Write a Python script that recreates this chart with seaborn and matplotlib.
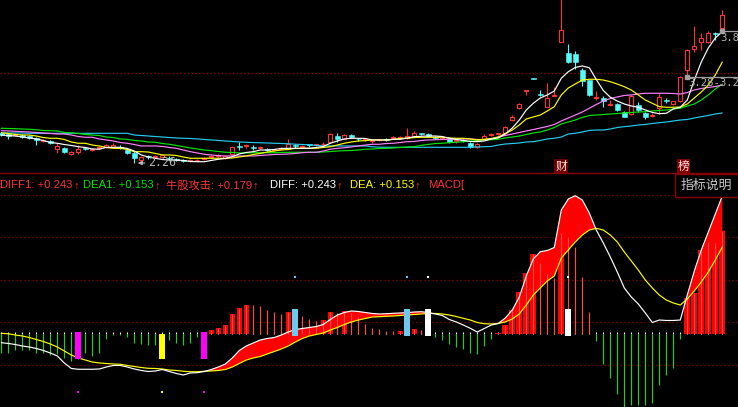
import matplotlib
matplotlib.use("Agg")
import matplotlib.pyplot as plt
import seaborn as sns
import numpy as np

# ---------------- data ----------------
opens = [2.62, 2.60, 2.59, 2.59, 2.58, 2.56, 2.52, 2.52, 2.43, 2.44,
         2.37, 2.39, 2.44, 2.41, 2.44, 2.45, 2.45, 2.45, 2.41, 2.38,
         2.30, 2.34, 2.33, 2.33, 2.32, 2.31, 2.29, 2.28, 2.29, 2.31,
         2.33, 2.34, 2.32, 2.37, 2.46, 2.46, 2.45, 2.44, 2.43, 2.41,
         2.43, 2.43, 2.47, 2.45, 2.48, 2.47, 2.48, 2.51, 2.58, 2.55,
         2.59, 2.55, 2.53, 2.52, 2.53, 2.55, 2.56, 2.56, 2.56, 2.58,
         2.61, 2.60, 2.57, 2.55, 2.55, 2.52, 2.53, 2.50, 2.45, 2.54,
         2.59, 2.60, 2.61, 2.77, 2.91, 3.11, 3.27, 3.08, 2.93, 3.06,
         3.70, 3.56, 3.55, 3.36, 3.24, 3.03, 3.03, 2.95, 2.96, 2.87,
         2.84, 2.95, 2.85, 2.82, 2.91, 3.01, 2.96, 2.99, 3.36, 3.61,
         3.70, 3.70, 3.80, 3.86]
highs = [2.63, 2.62, 2.62, 2.60, 2.59, 2.57, 2.54, 2.53, 2.50, 2.45,
         2.40, 2.47, 2.45, 2.44, 2.46, 2.49, 2.50, 2.47, 2.43, 2.40,
         2.34, 2.35, 2.35, 2.36, 2.34, 2.32, 2.31, 2.31, 2.31, 2.33,
         2.35, 2.37, 2.35, 2.46, 2.51, 2.49, 2.47, 2.46, 2.44, 2.43,
         2.45, 2.54, 2.49, 2.47, 2.49, 2.49, 2.51, 2.61, 2.61, 2.60,
         2.60, 2.56, 2.55, 2.54, 2.55, 2.56, 2.58, 2.58, 2.67, 2.64,
         2.62, 2.61, 2.58, 2.57, 2.56, 2.54, 2.54, 2.51, 2.50, 2.60,
         2.61, 2.62, 2.70, 2.83, 2.97, 3.13, 3.27, 3.12, 3.21, 3.16,
         4.25, 3.67, 3.59, 3.39, 3.25, 3.11, 3.05, 3.01, 2.97, 2.88,
         3.07, 2.98, 2.87, 2.85, 3.09, 3.03, 3.00, 3.29, 3.61, 3.88,
         3.80, 3.83, 3.81, 4.07]
lows = [2.58, 2.54, 2.58, 2.56, 2.54, 2.47, 2.51, 2.49, 2.38, 2.38,
        2.36, 2.37, 2.41, 2.40, 2.43, 2.44, 2.44, 2.43, 2.37, 2.26,
        2.29, 2.31, 2.32, 2.32, 2.30, 2.28, 2.27, 2.27, 2.28, 2.30,
        2.32, 2.33, 2.31, 2.36, 2.41, 2.44, 2.41, 2.42, 2.40, 2.40,
        2.41, 2.42, 2.44, 2.44, 2.45, 2.46, 2.46, 2.50, 2.51, 2.54,
        2.56, 2.52, 2.52, 2.50, 2.52, 2.52, 2.54, 2.55, 2.55, 2.57,
        2.59, 2.57, 2.55, 2.54, 2.50, 2.50, 2.51, 2.44, 2.44, 2.53,
        2.58, 2.59, 2.60, 2.76, 2.90, 3.07, 3.26, 3.06, 2.92, 3.05,
        3.69, 3.45, 3.38, 3.17, 3.05, 3.01, 2.93, 2.94, 2.88, 2.80,
        2.83, 2.87, 2.78, 2.80, 2.84, 2.97, 2.95, 2.98, 3.28, 3.58,
        3.60, 3.68, 3.72, 3.84]
closes = [2.59, 2.58, 2.60, 2.57, 2.56, 2.53, 2.53, 2.50, 2.46, 2.39,
          2.39, 2.43, 2.43, 2.43, 2.45, 2.47, 2.47, 2.44, 2.38, 2.32,
          2.33, 2.33, 2.34, 2.35, 2.31, 2.30, 2.28, 2.30, 2.30, 2.32,
          2.34, 2.35, 2.34, 2.45, 2.45, 2.47, 2.44, 2.45, 2.41, 2.42,
          2.44, 2.49, 2.46, 2.46, 2.47, 2.48, 2.49, 2.60, 2.54, 2.59,
          2.57, 2.54, 2.54, 2.53, 2.54, 2.53, 2.57, 2.57, 2.58, 2.61,
          2.60, 2.58, 2.56, 2.56, 2.51, 2.53, 2.52, 2.45, 2.49, 2.58,
          2.60, 2.61, 2.69, 2.81, 2.96, 3.12, 3.26, 3.07, 3.03, 3.07,
          3.84, 3.46, 3.46, 3.23, 3.07, 3.04, 2.99, 2.96, 2.89, 2.81,
          3.06, 2.89, 2.81, 2.83, 3.04, 3.00, 2.99, 3.28, 3.60, 3.65,
          3.74, 3.80, 3.79, 4.02]

ma5 = [2.592, 2.586, 2.580, 2.568, 2.557, 2.545, 2.527, 2.503, 2.494, 2.479,
       2.468, 2.453, 2.444, 2.426, 2.423, 2.446, 2.446, 2.446, 2.432, 2.402,
       2.355, 2.331, 2.316, 2.301, 2.295, 2.295, 2.290, 2.278, 2.275, 2.275,
       2.290, 2.304, 2.313, 2.335, 2.367, 2.385, 2.394, 2.414, 2.414, 2.420,
       2.432, 2.434, 2.434, 2.434, 2.434, 2.444, 2.456, 2.494, 2.521, 2.545,
       2.553, 2.553, 2.551, 2.533, 2.533, 2.533, 2.541, 2.541, 2.557, 2.572,
       2.577, 2.580, 2.580, 2.574, 2.553, 2.539, 2.527, 2.515, 2.513, 2.521,
       2.545, 2.557, 2.604, 2.675, 2.770, 2.889, 2.968, 3.031, 3.067, 3.114,
       3.265, 3.343, 3.393, 3.411, 3.390, 3.250, 3.120, 3.040, 2.995, 2.960,
       2.936, 2.921, 2.889, 2.860, 2.845, 2.850, 2.901, 2.921, 3.007, 3.244,
       3.458, 3.624, 3.743, 3.818]
ma10 = [2.619, 2.610, 2.598, 2.592, 2.592, 2.580, 2.562, 2.553, 2.553, 2.539,
        2.509, 2.494, 2.494, 2.473, 2.462, 2.444, 2.434, 2.434, 2.420, 2.394,
        2.394, 2.390, 2.373, 2.355, 2.355, 2.349, 2.331, 2.316, 2.316, 2.316,
        2.316, 2.316, 2.316, 2.319, 2.331, 2.343, 2.361, 2.373, 2.390, 2.402,
        2.414, 2.420, 2.434, 2.434, 2.434, 2.434, 2.444, 2.453, 2.473, 2.494,
        2.509, 2.521, 2.525, 2.533, 2.533, 2.533, 2.539, 2.551, 2.553, 2.562,
        2.565, 2.565, 2.565, 2.565, 2.557, 2.553, 2.553, 2.545, 2.533, 2.541,
        2.551, 2.568, 2.610, 2.651, 2.711, 2.782, 2.806, 2.829, 2.877, 2.928,
        3.067, 3.150, 3.197, 3.244, 3.253, 3.253, 3.244, 3.224, 3.197, 3.165,
        3.126, 3.067, 3.007, 2.968, 2.928, 2.921, 2.921, 2.924, 2.960, 3.031,
        3.102, 3.185, 3.304, 3.458]
ma20 = [2.643, 2.640, 2.636, 2.631, 2.628, 2.622, 2.616, 2.610, 2.604, 2.604,
        2.592, 2.574, 2.565, 2.565, 2.545, 2.533, 2.521, 2.503, 2.494, 2.479,
        2.462, 2.462, 2.462, 2.456, 2.444, 2.434, 2.414, 2.394, 2.379, 2.363,
        2.355, 2.347, 2.343, 2.343, 2.343, 2.343, 2.343, 2.349, 2.355, 2.361,
        2.363, 2.367, 2.373, 2.382, 2.387, 2.387, 2.402, 2.423, 2.434, 2.441,
        2.450, 2.462, 2.473, 2.482, 2.482, 2.491, 2.494, 2.503, 2.513, 2.515,
        2.527, 2.533, 2.536, 2.539, 2.541, 2.545, 2.545, 2.545, 2.539, 2.535,
        2.545, 2.568, 2.586, 2.604, 2.622, 2.640, 2.657, 2.675, 2.693, 2.717,
        2.758, 2.794, 2.829, 2.865, 2.909, 2.954, 2.995, 3.025, 3.043, 3.061,
        3.067, 3.078, 3.087, 3.087, 3.087, 3.087, 3.084, 3.078, 3.096, 3.126,
        3.144, 3.156, 3.167, 3.185]
ma30 = [2.672, 2.669, 2.667, 2.663, 2.660, 2.654, 2.646, 2.643, 2.640, 2.622,
        2.619, 2.610, 2.598, 2.592, 2.586, 2.568, 2.562, 2.545, 2.541, 2.527,
        2.521, 2.509, 2.506, 2.491, 2.482, 2.468, 2.453, 2.438, 2.426, 2.414,
        2.406, 2.396, 2.387, 2.385, 2.379, 2.379, 2.382, 2.382, 2.382, 2.382,
        2.385, 2.387, 2.387, 2.387, 2.387, 2.387, 2.390, 2.396, 2.402, 2.406,
        2.408, 2.414, 2.423, 2.426, 2.432, 2.434, 2.438, 2.444, 2.450, 2.453,
        2.470, 2.480, 2.491, 2.494, 2.501, 2.506, 2.513, 2.521, 2.525, 2.533,
        2.536, 2.541, 2.557, 2.568, 2.580, 2.598, 2.616, 2.628, 2.651, 2.681,
        2.723, 2.746, 2.770, 2.800, 2.823, 2.829, 2.835, 2.841, 2.847, 2.853,
        2.859, 2.865, 2.868, 2.877, 2.883, 2.889, 2.901, 2.909, 2.936, 2.960,
        3.007, 3.067, 3.138, 3.197]
ma60 = [2.616, 2.616, 2.616, 2.616, 2.612, 2.612, 2.612, 2.612, 2.612, 2.612,
        2.612, 2.612, 2.612, 2.612, 2.612, 2.612, 2.612, 2.612, 2.612, 2.592,
        2.586, 2.580, 2.574, 2.568, 2.562, 2.557, 2.553, 2.551, 2.545, 2.539,
        2.533, 2.527, 2.521, 2.515, 2.509, 2.506, 2.502, 2.500, 2.497, 2.494,
        2.491, 2.488, 2.483, 2.479, 2.476, 2.468, 2.462, 2.462, 2.462, 2.462,
        2.462, 2.462, 2.462, 2.452, 2.448, 2.446, 2.446, 2.446, 2.446, 2.446,
        2.446, 2.446, 2.446, 2.446, 2.446, 2.446, 2.446, 2.448, 2.450, 2.453,
        2.456, 2.473, 2.485, 2.491, 2.497, 2.509, 2.513, 2.527, 2.545, 2.553,
        2.568, 2.604, 2.612, 2.628, 2.646, 2.651, 2.651, 2.663, 2.681, 2.691,
        2.699, 2.711, 2.717, 2.729, 2.738, 2.746, 2.758, 2.770, 2.776, 2.794,
        2.809, 2.823, 2.841, 2.853]

diff = [-0.0153, -0.0167, -0.0185, -0.0211, -0.0229, -0.0255, -0.0290, -0.0334, -0.0387, -0.0510,
        -0.0607, -0.0621, -0.0621, -0.0621, -0.0616, -0.0581, -0.0554, -0.0554, -0.0581, -0.0616,
        -0.0642, -0.0660, -0.0651, -0.0625, -0.0660, -0.0695, -0.0722, -0.0686, -0.0681, -0.0660,
        -0.0625, -0.0581, -0.0528, -0.0422, -0.0290, -0.0211, -0.0158, -0.0106, -0.0079, -0.0062,
        -0.0018, 0.0035, 0.0079, 0.0097, 0.0114, 0.0132, 0.0167, 0.0255, 0.0334, 0.0378,
        0.0405, 0.0396, 0.0378, 0.0361, 0.0352, 0.0357, 0.0364, 0.0370, 0.0375, 0.0387,
        0.0392, 0.0378, 0.0352, 0.0326, 0.0255, 0.0211, 0.0158, 0.0100, 0.0035, 0.0097,
        0.0158, 0.0185, 0.0282, 0.0422, 0.0651, 0.1021, 0.1320, 0.1448, 0.1470, 0.1522,
        0.2182, 0.2376, 0.2434, 0.2358, 0.2130, 0.1830, 0.1602, 0.1355, 0.1091, 0.0810,
        0.0651, 0.0528, 0.0370, 0.0202, 0.0246, 0.0238, 0.0238, 0.0246, 0.0686, 0.1109,
        0.1478, 0.1795, 0.2112, 0.2430]
dea = [0.0012, 0.0004, -0.0018, -0.0035, -0.0062, -0.0097, -0.0132, -0.0176, -0.0229, -0.0299,
       -0.0370, -0.0422, -0.0458, -0.0493, -0.0510, -0.0519, -0.0528, -0.0533, -0.0554, -0.0572,
       -0.0590, -0.0604, -0.0607, -0.0616, -0.0634, -0.0642, -0.0656, -0.0664, -0.0664, -0.0656,
       -0.0651, -0.0642, -0.0625, -0.0581, -0.0519, -0.0458, -0.0422, -0.0396, -0.0352, -0.0308,
       -0.0264, -0.0211, -0.0141, -0.0079, -0.0035, -0.0009, 0.0018, 0.0070, 0.0114, 0.0167,
       0.0211, 0.0246, 0.0273, 0.0299, 0.0304, 0.0312, 0.0317, 0.0326, 0.0334, 0.0343,
       0.0352, 0.0361, 0.0361, 0.0352, 0.0334, 0.0308, 0.0276, 0.0246, 0.0202, 0.0181,
       0.0176, 0.0185, 0.0211, 0.0264, 0.0352, 0.0510, 0.0686, 0.0810, 0.0933, 0.1021,
       0.1338, 0.1478, 0.1619, 0.1742, 0.1830, 0.1860, 0.1830, 0.1742, 0.1619, 0.1443,
       0.1285, 0.1126, 0.0950, 0.0810, 0.0686, 0.0598, 0.0546, 0.0510, 0.0616, 0.0757,
       0.0915, 0.1091, 0.1302, 0.1530]
macd = [-0.034, -0.033, -0.028, -0.029, -0.028, -0.033, -0.034, -0.037, -0.035, -0.043,
        -0.047, -0.044, -0.033, -0.039, -0.034, -0.009, -0.002, -0.002, -0.005, -0.016,
        -0.018, -0.019, -0.019, -0.009, -0.011, -0.016, -0.019, -0.015, -0.006, -0.002,
        0.007, 0.011, 0.016, 0.035, 0.046, 0.051, 0.051, 0.049, 0.042, 0.039,
        0.035, 0.039, 0.035, 0.032, 0.026, 0.023, 0.025, 0.039, 0.037, 0.040,
        0.037, 0.030, 0.017, 0.011, 0.009, 0.006, 0.005, 0.005, 0.005, 0.009,
        0.007, 0.003, -0.006, -0.011, -0.018, -0.023, -0.026, -0.034, -0.035, -0.021,
        -0.009, 0.002, 0.016, 0.042, 0.074, 0.107, 0.141, 0.125, 0.105, 0.098,
        0.177, 0.171, 0.153, 0.100, 0.038, -0.012, -0.053, -0.077, -0.105, -0.128,
        -0.125, -0.125, -0.125, -0.122, -0.090, -0.073, -0.059, -0.009, 0.063, 0.072,
        0.147, 0.162, 0.161, 0.182]
wide_bars = [30, 31, 32, 33, 34, 35, 41, 46, 47, 49, 57, 59, 71, 72, 73, 74, 75, 76, 80,
             98, 99, 100, 101, 102, 103]

# signal blocks in the MACD pane
signal_bars = [11, 23, 29, 42, 58, 61, 81]
signal_top = [0.004, 0.000, 0.004, 0.044, 0.044, 0.044, 0.044]
signal_bottom = [-0.044, -0.044, -0.044, -0.003, -0.003, -0.003, -0.003]
signal_colors = ["#ff00ff", "#ffff00", "#ff00ff", "#6ec8f0", "#6ec8f0", "#ffffff", "#ffffff"]
signal_dot_y = [-0.1015, -0.1015, -0.1015, 0.101, 0.101, 0.101, 0.101]

grid_levels = [0.2446, 0.1707, 0.0950, 0.0211, -0.0546]
price_ref_line = 3.328

info_names = ["DIFF1", "DEA1", "牛股攻击", "DIFF", "DEA"]
info_values = [0.243, 0.153, 0.179, 0.243, 0.153]
info_colors = ["#ff3232", "#00e000", "#ff3232", "#ffffff", "#ffff00"]
info_px = [0.5, 83, 166, 270, 350]

event_labels = ["财", "榜"]
event_x = [80, 97.45]

# price marker labels (text as visible in the picture)
low_label = "2.26"
mark_labels = ["3.28-3.2", "3.8"]
mark_line_y = [3.284, 3.826]
mark_line_x = [97.9, 102.9]
mark_text_x = [98.1, 102.7]
mark_text_y = [3.205, 3.74]

# ---------------- styling ----------------
W, H = 738, 407
sns.set_theme(style="dark", rc={"axes.facecolor": "black", "figure.facecolor": "black",
                                "savefig.facecolor": "black"})
FAM = ["Liberation Sans", "Noto Sans CJK SC", "DejaVu Sans"]
MONO = ["DejaVu Sans Mono", "DejaVu Sans"]
plt.rcParams["font.family"] = FAM

RED = "#ff3232"
CYAN = "#54fcfc"
GREEN = "#22cc22"
DKRED = "#8b0000"

fig = plt.figure(figsize=(W / 100, H / 100), dpi=100)


def fy(py):
    return 1 - py / H


X0, X1 = -0.186, 105.243
ax1 = fig.add_axes([0, fy(172), 1, 172 / H])
ax2 = fig.add_axes([0, 0, 1, 233 / H])
for ax in (ax1, ax2):
    ax.set_facecolor("black")
    ax.set_xlim(X0, X1)
    ax.set_xticks([])
    ax.set_yticks([])
    ax.grid(False)
    for s in ax.spines.values():
        s.set_visible(False)
ax1.set_ylim(2.153, 4.1935)
ax2.set_ylim(-0.1285, 0.2816)

idx = np.arange(len(closes))
o = np.array(opens); h = np.array(highs); l = np.array(lows); c = np.array(closes)
up = c >= o

# ---------------- price pane ----------------
ax1.axhline(price_ref_line, color="#a00000", lw=0.9, ls=(0, (1, 2)), zorder=1)
ax1.vlines(idx[up], l[up], h[up], color=RED, lw=0.8, zorder=3)
ax1.vlines(idx[~up], l[~up], h[~up], color=CYAN, lw=0.8, zorder=3)
body_lo = np.minimum(o, c)
body_h = np.maximum(np.abs(c - o), 0.004)
ax1.bar(idx[up], body_h[up], bottom=body_lo[up], width=0.6, facecolor="black",
        edgecolor=RED, linewidth=0.8, zorder=4)
ax1.bar(idx[~up], body_h[~up], bottom=body_lo[~up], width=0.68, facecolor=CYAN,
        edgecolor=CYAN, linewidth=0.4, zorder=4)

for ma, col in [(ma60, "#22ccee"), (ma30, "#00e600"), (ma20, "#ff80ff"),
                (ma10, "#ffff00"), (ma5, "#ffffff")]:
    sns.lineplot(x=idx, y=ma, ax=ax1, color=col, linewidth=0.85, legend=False, zorder=5)

GRAY = "#b8b8b8"
ax1.annotate("", xy=(19.1, 2.26), xytext=(20.9, 2.26),
             arrowprops=dict(arrowstyle="-|>", color=GRAY, lw=0.8, mutation_scale=6), zorder=6)
ax1.text(21.0, 2.262, low_label, color=GRAY, fontsize=8.4, va="center", ha="left",
         family=MONO, zorder=6)
for lab, ly, lx, tx, ty in zip(mark_labels, mark_line_y, mark_line_x, mark_text_x, mark_text_y):
    ax1.hlines(ly, lx, X1, color="#a0a0a0", lw=0.9, zorder=6)
    ax1.plot([lx], [ly], marker="s", markersize=2.2, color="#a0a0a0", zorder=6)
    ax1.text(tx, ty, lab, color=GRAY, fontsize=7.6, va="center", ha="left",
             family=MONO, zorder=6)

for lab, xe, bg in zip(event_labels, event_x, ["#6a0000", "#800000"]):
    ax1.text(xe, 2.215, lab, color="#ffe0e0", fontsize=8.5, ha="center", va="center",
             family=["Noto Sans CJK SC"], zorder=7,
             bbox=dict(boxstyle="square,pad=0.08", facecolor=bg, edgecolor="none"))

# ---------------- MACD pane ----------------
for g in grid_levels:
    ax2.axhline(g, color=DKRED, lw=0.9, ls=(0, (1, 2.2)), zorder=0)
ax2.vlines(idx, 0, 0.0035, color="white", lw=0.8, zorder=1)
m = np.array(macd)
neg = m < 0
ax2.vlines(idx[neg], m[neg], 0, color=GREEN, lw=0.85, zorder=2)
wmask = np.zeros(len(m), bool); wmask[wide_bars] = True
ax2.bar(idx[wmask], m[wmask], width=0.8, color="#ff0000", linewidth=0, zorder=2)
d1 = np.array(diff); d2 = np.array(dea)
ax2.fill_between(idx, d1, d2, where=d1 >= d2, interpolate=True, color="#ff0000",
                 linewidth=0, zorder=3)
pos = m > 0
ax2.vlines(idx[pos], 0, m[pos], color="#ff4a4a", lw=0.85, zorder=4)
sns.lineplot(x=idx, y=dea, ax=ax2, color="#ffff00", linewidth=0.85, legend=False, zorder=6)
sns.lineplot(x=idx, y=diff, ax=ax2, color="#ffffff", linewidth=0.85, legend=False, zorder=6)
ax2.bar(signal_bars, np.array(signal_top) - np.array(signal_bottom), bottom=signal_bottom,
        width=0.85, color=signal_colors, linewidth=0, zorder=7)
ax2.scatter(signal_bars, signal_dot_y, c=signal_colors, s=2.5, marker="s", linewidths=0, zorder=7)

# ---------------- info row ----------------
fig.add_artist(plt.Line2D([0, 1], [fy(173.5), fy(173.5)], color=DKRED, lw=1.0))
fig.add_artist(plt.Rectangle((675 / W, fy(197)), 63 / W, 23 / H, facecolor="black",
                             edgecolor=DKRED, lw=1.0))
fig.text(706 / W, fy(185.5), "指标说明", color="#c8c8c8", fontsize=9.3, ha="center", va="center",
         family=["Noto Sans CJK SC", "DejaVu Sans"])

renderer = fig.canvas.get_renderer()
TY = fy(185.5)
FS = 8.1
for name, val, col, px in zip(info_names, info_values, info_colors, info_px):
    t = fig.text(px / W, TY, f"{name}: {val:+.3f}", color=col, fontsize=FS, va="center",
                 ha="left", family=FAM)
    x1 = t.get_window_extent(renderer=renderer).x1
    fig.text((x1 + 0.5) / W, TY, "\u2191", color=RED, fontsize=FS, va="center", ha="left",
             family=FAM)
fig.text(428 / W, TY, "MACD[", color=RED, fontsize=FS, va="center", ha="left", family=FAM)

fig.savefig("out.png", dpi=100, facecolor="black")
